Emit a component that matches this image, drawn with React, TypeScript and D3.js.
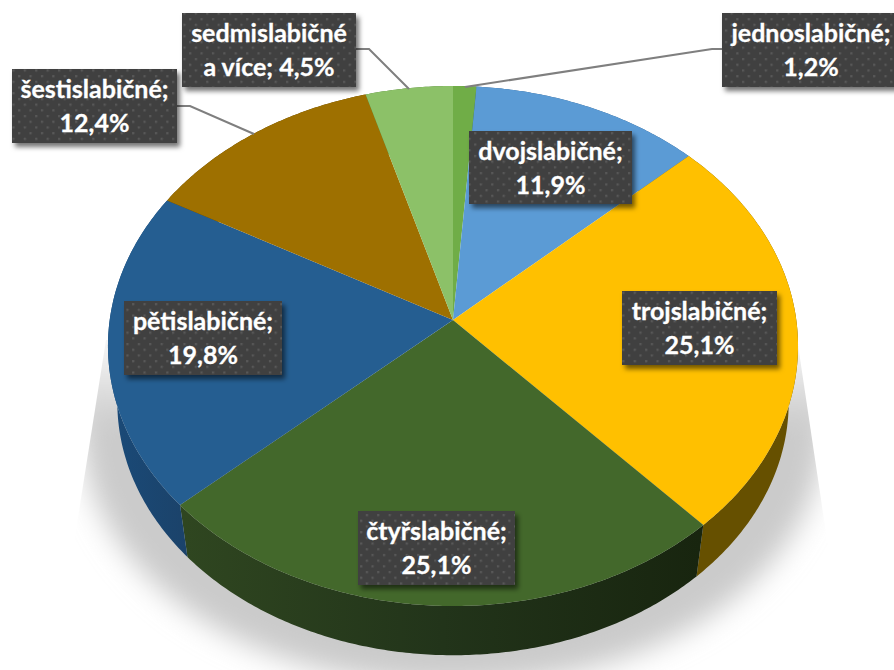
import React from "react";
import * as d3 from "d3";

const categories = ["jednoslabičné", "dvojslabičné", "trojslabičné", "čtyřslabičné", "pětislabičné", "šestislabičné", "sedmislabičné a více"];
const values = [1.2, 11.9, 25.1, 25.1, 19.8, 12.4, 4.5];
const valueLabels = ["1,2%", "11,9%", "25,1%", "25,1%", "19,8%", "12,4%", "4,5%"];
const topColors = ["#70AD47", "#5B9BD5", "#FFC000", "#43682B", "#255E91", "#9E7000", "#8CC168"];
const wallColors = ["#3f6228", "#2f5a85", "#665000", "url(#wallGreen)", "url(#wallBlue)", "#5a4000", "#4f7a38"];
// label boxes: x, y, w, h, and the two text lines
const boxes = [
  { x: 722, y: 13, w: 178, h: 74, l1: "jednoslabičné;", l2: 0 },
  { x: 469, y: 131, w: 163, h: 73, l1: "dvojslabičné;", l2: 1 },
  { x: 622, y: 291, w: 155, h: 74, l1: "trojslabičné;", l2: 2 },
  { x: 358, y: 511, w: 157, h: 74, l1: "čtyřslabičné;", l2: 3 },
  { x: 124, y: 301, w: 158, h: 74, l1: "pětislabičné;", l2: 4 },
  { x: 12, y: 69, w: 165, h: 74, l1: "šestislabičné;", l2: 5 },
  { x: 182, y: 13, w: 174, h: 74, l1: "sedmislabičné", l2: 6 },
];
const leaders: [number, number][][] = [
  [[722, 49], [712, 49], [465, 87]],
  [[177, 106], [190, 106], [254, 134]],
  [[356, 49], [369, 49], [409, 89]],
];

const CX = 453;
const PERSP = 0.1;
const top = { cy: 320, a: 257.4, b: 343.3 };
const bottom = { cy: 377, a: 250.4, b: 334 };
type Ring = typeof top;
const project = (r: Ring, th: number): [number, number] => {
  const u = Math.sin(th), v = Math.cos(th), w = 1 + PERSP * v;
  return [CX + (r.b * u) / w, r.cy - (r.a * v) / w];
};
const arcs = d3.pie<number>().sort(null)(values);
const line = d3.line();
const samples = (a: number, b: number) => {
  const n = Math.max(2, Math.ceil((b - a) / 0.01));
  return d3.range(n + 1).map((i) => a + ((b - a) * i) / n);
};

export default function App() {
  const leaderLine = d3.line();
  return (
    <svg width={894} height={670} style={{ position: "absolute", left: 0, top: 0 }} fontFamily="Lato, 'Open Sans', sans-serif">
      <defs>
        <filter id="floorBlur" filterUnits="userSpaceOnUse" x={0} y={250} width={894} height={520}>
          <feGaussianBlur stdDeviation={14} />
        </filter>
        <linearGradient id="floorFill" gradientUnits="userSpaceOnUse" x1={0} x2={0} y1={345} y2={425}>
          <stop offset="0" stopColor="#f6f6f6" />
          <stop offset="1" stopColor="#cbcbcb" />
        </linearGradient>
        <clipPath id="floorClip">
          <path d="M106,340 L70,568 L70,670 L836,670 L836,600 L798,345 Z" />
        </clipPath>
        <linearGradient id="wallGreen" gradientUnits="userSpaceOnUse" x1={185} x2={700} y1={0} y2={0}>
          <stop offset="0" stopColor="#2f4620" />
          <stop offset="0.5" stopColor="#22341a" />
          <stop offset="1" stopColor="#18250f" />
        </linearGradient>
        <linearGradient id="wallBlue" gradientUnits="userSpaceOnUse" x1={110} x2={190} y1={0} y2={0}>
          <stop offset="0" stopColor="#1a4a78" />
          <stop offset="1" stopColor="#1b4269" />
        </linearGradient>
        <pattern id="dots" width={11.4} height={11.4} patternUnits="userSpaceOnUse">
          <rect width={11.4} height={11.4} fill="#404040" />
          <rect x={1} y={1} width={2.2} height={2.2} fill="#595959" />
          <rect x={6.7} y={6.7} width={2.2} height={2.2} fill="#595959" />
        </pattern>
        <filter id="boxShadow" x="-15%" y="-25%" width="130%" height="150%">
          <feDropShadow dx={3} dy={4} stdDeviation={2.5} floodColor="#000" floodOpacity={0.55} />
        </filter>
      </defs>

      <g clipPath="url(#floorClip)">
        <path
          d="M40,300 L82,440 C88,565 230,685 453,685 C676,685 818,565 824,440 L866,300 Z"
          fill="url(#floorFill)"
          filter="url(#floorBlur)"
        />
      </g>

      {arcs.map((a, i) => {
        const th = samples(a.startAngle, a.endAngle);
        const pts = [...th.map((t) => project(top, t)), ...th.slice().reverse().map((t) => project(bottom, t))];
        return <path key={i} d={line(pts) + "Z"} fill={wallColors[i]} />;
      })}

      {arcs.map((a, i) => {
        const th = samples(a.startAngle, a.endAngle);
        const pts: [number, number][] = [[CX, top.cy], ...th.map((t) => project(top, t))];
        return <path key={i} d={line(pts) + "Z"} fill={topColors[i]} />;
      })}

      {leaders.map((l, i) => (
        <path key={i} d={leaderLine(l) ?? ""} fill="none" stroke="#7f7f7f" strokeWidth={2} />
      ))}

      {boxes.map((b, i) => (
        <g key={i}>
          <rect x={b.x} y={b.y} width={b.w} height={b.h} fill="url(#dots)" filter="url(#boxShadow)" />
          <text x={b.x + b.w / 2} y={b.y + 29} textAnchor="middle" fontSize={25} fontWeight={700} fill="#fff" stroke="#fff" strokeWidth={0.3}>{b.l1}</text>
          <text x={b.x + b.w / 2} y={b.y + 63} textAnchor="middle" fontSize={25} fontWeight={700} fill="#fff" stroke="#fff" strokeWidth={0.3}>
            {i === 6 ? `a více; ${valueLabels[b.l2]}` : valueLabels[b.l2]}
          </text>
        </g>
      ))}
    </svg>
  );
}
